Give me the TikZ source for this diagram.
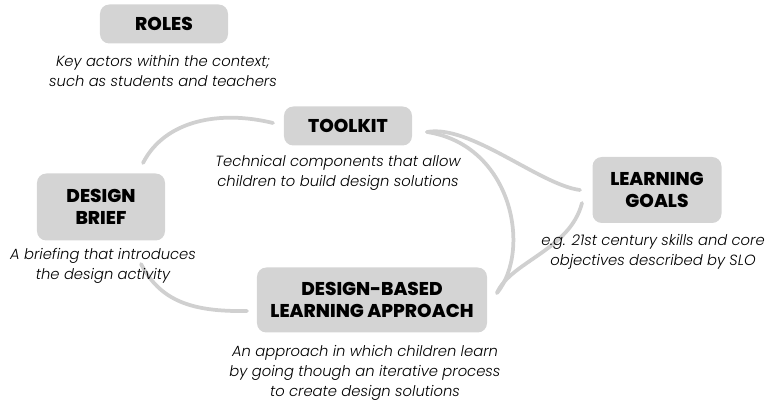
\documentclass[tikz,border=0pt]{standalone}
\usepackage{fontspec}
\setmainfont{Poppins}
\newfontfamily\heavyfont{Poppins ExtraBold}
\newfontfamily\lightfont{Poppins Light}
\usepackage{tikz}
\definecolor{boxgrey}{RGB}{212,212,212}
\definecolor{linkgrey}{RGB}{208,208,208}

\begin{document}
\begin{tikzpicture}[x=0.03cm,y=-0.03cm,
    block/.style={fill=boxgrey, rounded corners=8pt, align=center, inner sep=0pt,
        font=\heavyfont\fontsize{15.8}{19}\selectfont},
    desc/.style={align=center, inner sep=1pt, font=\lightfont\fontsize{12.6}{17.2}\selectfont\itshape},
    link/.style={draw=linkgrey, line width=3.2pt, line cap=round}]
        \useasboundingbox (0,0) rectangle (774,402);
        % connectors first, boxes on top
        \coordinate (tkl) at (273,123);
        \coordinate (tkr) at (427,132);
        \coordinate (dbt) at (143,163);
        \coordinate (dbb) at (141,264);
        \coordinate (lgl) at (580,190);
        \coordinate (lgb) at (582,203);
        \coordinate (apl) at (247,311);
        \coordinate (apr) at (497,293);
        \draw[link] (tkl) .. controls (220,110) and (165,120) .. (dbt);
        \draw[link] (dbb) .. controls (160,300) and (190,312) .. (apl);
        \draw[link] (tkr) .. controls (470,124) and (540,185) .. (lgl);
        \draw[link] (tkr) .. controls (512,145) and (532,250) .. (apr);
        \draw[link] (lgb) .. controls (570,250) and (510,262) .. (apr);
        % boxes
        \node[block, minimum width=3.84cm, minimum height=1.17cm] (roles) at (164,24) {ROLES};
        \node[block, minimum width=3.84cm, minimum height=1.17cm] (toolkit) at (348,126) {TOOLKIT};
        \node[block, minimum width=3.84cm, minimum height=2.01cm] (brief) at (101,207) {DESIGN\\BRIEF};
        \node[block, minimum width=3.87cm, minimum height=1.98cm] (goals) at (657,190) {LEARNING\\GOALS};
        \node[block, minimum width=6.9cm, minimum height=1.95cm] (approach) at (372,300) {DESIGN-BASED\\LEARNING APPROACH};
        % descriptions
        \node[desc] (rolesdesc) at (163,71) {Key actors within the context;\\such as students and teachers};
        \node[desc] (toolkitdesc) at (338,173) {Technical components that allow\\children to build design solutions};
        \node[desc] (briefdesc) at (103,266) {A briefing that introduces\\the design activity};
        \node[desc] (goalsdesc) at (653,252) {e.g. 21st century skills and core\\objectives described by SLO};
        \node[desc, inner sep=0pt] (approachdesc) at (365,373) {An approach in which children learn\\by going though an iterative process\\to create design solutions};
\end{tikzpicture}
\end{document}
